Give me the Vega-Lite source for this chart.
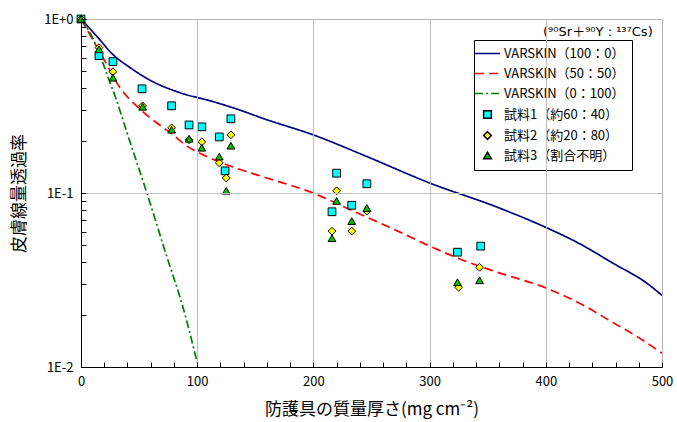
{
  "$schema": "https://vega.github.io/schema/vega-lite/v6.json",
  "width": 581,
  "height": 348,
  "autosize": {"type": "none"},
  "padding": {"left": 81, "top": 19, "right": 15, "bottom": 55},
  "background": "white",
  "config": {
    "font": "Noto Sans CJK JP",
    "view": {"stroke": "#b4b4b4", "strokeWidth": 1},
    "axis": {
      "domainColor": "black",
      "labelColor": "black",
      "titleColor": "black",
      "labelFontSize": 13,
      "titleFontSize": 17,
      "titleFontWeight": "normal",
      "gridColor": "#c0c0c0",
      "labelOverlap": false,
      "labelFlush": false
    },
    "legend": {
      "orient": "none",
      "legendX": 393,
      "legendY": 21,
      "strokeColor": "black",
      "fillColor": "white",
      "padding": 7,
      "labelFontSize": 13,
      "labelColor": "black",
      "symbolSize": 60,
      "symbolStrokeWidth": 1.5,
      "rowPadding": 6,
      "labelOffset": 10,
      "titleFontSize": 0
    }
  },
  "datasets": {
    "curves": [
      {"series": "VARSKIN（100：0）", "x": 0, "y": 1},
      {"series": "VARSKIN（100：0）", "x": 13.8, "y": 0.793},
      {"series": "VARSKIN（100：0）", "x": 27.5, "y": 0.624},
      {"series": "VARSKIN（100：0）", "x": 42.2, "y": 0.526},
      {"series": "VARSKIN（100：0）", "x": 56.8, "y": 0.455},
      {"series": "VARSKIN（100：0）", "x": 85.2, "y": 0.377},
      {"series": "VARSKIN（100：0）", "x": 111, "y": 0.339},
      {"series": "VARSKIN（100：0）", "x": 130.8, "y": 0.309},
      {"series": "VARSKIN（100：0）", "x": 158.3, "y": 0.266},
      {"series": "VARSKIN（100：0）", "x": 201.4, "y": 0.214},
      {"series": "VARSKIN（100：0）", "x": 246, "y": 0.162},
      {"series": "VARSKIN（100：0）", "x": 300.3, "y": 0.114},
      {"series": "VARSKIN（100：0）", "x": 358, "y": 0.083},
      {"series": "VARSKIN（100：0）", "x": 401, "y": 0.063},
      {"series": "VARSKIN（100：0）", "x": 429.4, "y": 0.051},
      {"series": "VARSKIN（100：0）", "x": 457.8, "y": 0.0395},
      {"series": "VARSKIN（100：0）", "x": 487, "y": 0.0303},
      {"series": "VARSKIN（100：0）", "x": 500, "y": 0.0258},
      {"series": "VARSKIN（50：50）", "x": 0, "y": 1},
      {"series": "VARSKIN（50：50）", "x": 18.9, "y": 0.6},
      {"series": "VARSKIN（50：50）", "x": 33.6, "y": 0.403},
      {"series": "VARSKIN（50：50）", "x": 53.4, "y": 0.293},
      {"series": "VARSKIN（50：50）", "x": 79.2, "y": 0.216},
      {"series": "VARSKIN（50：50）", "x": 91.2, "y": 0.186},
      {"series": "VARSKIN（50：50）", "x": 105, "y": 0.166},
      {"series": "VARSKIN（50：50）", "x": 130.8, "y": 0.141},
      {"series": "VARSKIN（50：50）", "x": 160, "y": 0.122},
      {"series": "VARSKIN（50：50）", "x": 199.7, "y": 0.1},
      {"series": "VARSKIN（50：50）", "x": 229.8, "y": 0.0812},
      {"series": "VARSKIN（50：50）", "x": 274.5, "y": 0.0596},
      {"series": "VARSKIN（50：50）", "x": 300.3, "y": 0.0495},
      {"series": "VARSKIN（50：50）", "x": 328.7, "y": 0.0411},
      {"series": "VARSKIN（50：50）", "x": 358, "y": 0.0351},
      {"series": "VARSKIN（50：50）", "x": 401, "y": 0.0283},
      {"series": "VARSKIN（50：50）", "x": 429.4, "y": 0.0232},
      {"series": "VARSKIN（50：50）", "x": 457.8, "y": 0.018},
      {"series": "VARSKIN（50：50）", "x": 481, "y": 0.0146},
      {"series": "VARSKIN（50：50）", "x": 500, "y": 0.012},
      {"series": "VARSKIN（0：100）", "x": 0, "y": 1},
      {"series": "VARSKIN（0：100）", "x": 3.4, "y": 0.93},
      {"series": "VARSKIN（0：100）", "x": 13.8, "y": 0.685},
      {"series": "VARSKIN（0：100）", "x": 22.4, "y": 0.479},
      {"series": "VARSKIN（0：100）", "x": 31, "y": 0.335},
      {"series": "VARSKIN（0：100）", "x": 39.6, "y": 0.222},
      {"series": "VARSKIN（0：100）", "x": 55.1, "y": 0.108},
      {"series": "VARSKIN（0：100）", "x": 74, "y": 0.0428},
      {"series": "VARSKIN（0：100）", "x": 87.8, "y": 0.022},
      {"series": "VARSKIN（0：100）", "x": 100, "y": 0.0106}
    ],
    "samples": [
      {"series": "試料1（約60：40）", "x": 0, "y": 1.0},
      {"series": "試料1（約60：40）", "x": 15.5, "y": 0.616},
      {"series": "試料1（約60：40）", "x": 27.5, "y": 0.569},
      {"series": "試料1（約60：40）", "x": 52.5, "y": 0.397},
      {"series": "試料1（約60：40）", "x": 78, "y": 0.317},
      {"series": "試料1（約60：40）", "x": 93, "y": 0.246},
      {"series": "試料1（約60：40）", "x": 104, "y": 0.24},
      {"series": "試料1（約60：40）", "x": 119, "y": 0.21},
      {"series": "試料1（約60：40）", "x": 129, "y": 0.267},
      {"series": "試料1（約60：40）", "x": 124, "y": 0.134},
      {"series": "試料1（約60：40）", "x": 216, "y": 0.078},
      {"series": "試料1（約60：40）", "x": 220, "y": 0.13},
      {"series": "試料1（約60：40）", "x": 233, "y": 0.085},
      {"series": "試料1（約60：40）", "x": 246, "y": 0.113},
      {"series": "試料1（約60：40）", "x": 324, "y": 0.0457},
      {"series": "試料1（約60：40）", "x": 344, "y": 0.0495},
      {"series": "試料2（約20：80）", "x": 0, "y": 1.0},
      {"series": "試料2（約20：80）", "x": 15.5, "y": 0.685},
      {"series": "試料2（約20：80）", "x": 27.5, "y": 0.498},
      {"series": "試料2（約20：80）", "x": 53, "y": 0.317},
      {"series": "試料2（約20：80）", "x": 78, "y": 0.237},
      {"series": "試料2（約20：80）", "x": 93, "y": 0.202},
      {"series": "試料2（約20：80）", "x": 104, "y": 0.197},
      {"series": "試料2（約20：80）", "x": 129, "y": 0.216},
      {"series": "試料2（約20：80）", "x": 119, "y": 0.149},
      {"series": "試料2（約20：80）", "x": 125, "y": 0.122},
      {"series": "試料2（約20：80）", "x": 220, "y": 0.103},
      {"series": "試料2（約20：80）", "x": 246, "y": 0.0787},
      {"series": "試料2（約20：80）", "x": 216, "y": 0.0604},
      {"series": "試料2（約20：80）", "x": 233, "y": 0.0604},
      {"series": "試料2（約20：80）", "x": 325, "y": 0.0287},
      {"series": "試料2（約20：80）", "x": 343, "y": 0.0374},
      {"series": "試料3（割合不明）", "x": 0, "y": 1.0},
      {"series": "試料3（割合不明）", "x": 15.5, "y": 0.67},
      {"series": "試料3（割合不明）", "x": 27.5, "y": 0.46},
      {"series": "試料3（割合不明）", "x": 53, "y": 0.313},
      {"series": "試料3（割合不明）", "x": 78, "y": 0.231},
      {"series": "試料3（割合不明）", "x": 93, "y": 0.205},
      {"series": "試料3（割合不明）", "x": 104, "y": 0.182},
      {"series": "試料3（割合不明）", "x": 119, "y": 0.162},
      {"series": "試料3（割合不明）", "x": 129, "y": 0.187},
      {"series": "試料3（割合不明）", "x": 125, "y": 0.103},
      {"series": "試料3（割合不明）", "x": 220, "y": 0.09},
      {"series": "試料3（割合不明）", "x": 246, "y": 0.082},
      {"series": "試料3（割合不明）", "x": 233, "y": 0.069},
      {"series": "試料3（割合不明）", "x": 216, "y": 0.055},
      {"series": "試料3（割合不明）", "x": 324, "y": 0.0307},
      {"series": "試料3（割合不明）", "x": 343, "y": 0.0315}
    ]
  },
  "encoding": {
    "x": {
      "field": "x",
      "type": "quantitative",
      "scale": {"domain": [0, 500], "nice": false, "zero": false},
      "axis": {
        "values": [0, 20, 40, 60, 80, 100, 120, 140, 160, 180, 200, 220, 240, 260, 280, 300, 320, 340, 360, 380, 400, 420, 440, 460, 480, 500],
        "labelExpr": "datum.value % 100 === 0 ? datum.label : ''",
        "ticks": true,
        "tickSize": -5,
        "tickColor": "#000000",
        "tickWidth": 1,
        "zindex": 1,
        "labelPadding": 13,
        "grid": true,
        "gridOpacity": {"condition": {"test": "datum.value % 100 === 0 && datum.value > 0 && datum.value < 500", "value": 1}, "value": 0},
        "title": "防護具の質量厚さ(mg cm⁻²)",
        "titlePadding": 13
      }
    },
    "y": {
      "field": "y",
      "type": "quantitative",
      "scale": {"type": "log", "domain": [0.01, 1], "nice": false},
      "axis": {
        "values": [0.01, 0.02, 0.03, 0.04, 0.05, 0.06, 0.07, 0.08, 0.09, 0.1, 0.2, 0.3, 0.4, 0.5, 0.6, 0.7, 0.8, 0.9, 1],
        "labelExpr": "datum.value > 0.99 ? '1E+0' : (abs(datum.value - 0.1) < 1e-9 ? '1E-1' : (abs(datum.value - 0.01) < 1e-9 ? '1E-2' : ''))",
        "ticks": true,
        "tickSize": -5,
        "tickColor": "#000000",
        "tickWidth": 1,
        "zindex": 1,
        "labelPadding": 13,
        "grid": true,
        "gridOpacity": {"condition": {"test": "abs(datum.value - 0.1) < 1e-9", "value": 1}, "value": 0},
        "title": "皮膚線量透過率",
        "titlePadding": 15
      }
    }
  },
  "layer": [
    {
      "data": {"name": "curves"},
      "mark": {"type": "line", "strokeWidth": 1.7, "clip": true, "interpolate": "monotone"},
      "encoding": {
        "stroke": {
          "field": "series",
          "type": "nominal",
          "scale": {
            "domain": ["VARSKIN（100：0）", "VARSKIN（50：50）", "VARSKIN（0：100）", "試料1（約60：40）", "試料2（約20：80）", "試料3（割合不明）"],
            "range": ["#000080", "#ff0000", "#008000", "#000000", "#000000", "#000000"]
          },
          "legend": {"title": null}
        },
        "strokeDash": {
          "field": "series",
          "type": "nominal",
          "scale": {
            "domain": ["VARSKIN（100：0）", "VARSKIN（50：50）", "VARSKIN（0：100）", "試料1（約60：40）", "試料2（約20：80）", "試料3（割合不明）"],
            "range": [[1, 0], [9, 5], [8, 3, 2, 3], [1, 0], [1, 0], [1, 0]]
          },
          "legend": {"title": null}
        }
      }
    },
    {
      "data": {"name": "samples"},
      "mark": {"type": "point", "filled": true, "size": 60, "strokeWidth": 1, "opacity": 1, "fillOpacity": 1},
      "encoding": {
        "fill": {
          "field": "series",
          "type": "nominal",
          "scale": {
            "domain": ["VARSKIN（100：0）", "VARSKIN（50：50）", "VARSKIN（0：100）", "試料1（約60：40）", "試料2（約20：80）", "試料3（割合不明）"],
            "range": ["transparent", "transparent", "transparent", "#00ffff", "#ffff00", "#00c000"]
          },
          "legend": {"title": null}
        },
        "stroke": {
          "field": "series",
          "type": "nominal",
          "legend": {"title": null}
        },
        "shape": {
          "field": "series",
          "type": "nominal",
          "scale": {
            "domain": ["VARSKIN（100：0）", "VARSKIN（50：50）", "VARSKIN（0：100）", "試料1（約60：40）", "試料2（約20：80）", "試料3（割合不明）"],
            "range": ["M-3.2,0H3.2", "M-3.2,0H3.2", "M-3.2,0H3.2", "square", "diamond", "triangle-up"]
          },
          "legend": {"title": null}
        }
      }
    },
    {
      "data": {"values": [{"x": 492, "y": 0.845, "label": "(⁹⁰Sr＋⁹⁰Y : ¹³⁷Cs)"}]},
      "mark": {"type": "text", "align": "right", "baseline": "middle", "fontSize": 13, "color": "black", "font": "DejaVu Sans, Noto Sans CJK JP"},
      "encoding": {
        "text": {"field": "label", "type": "nominal"}
      }
    }
  ]
}
